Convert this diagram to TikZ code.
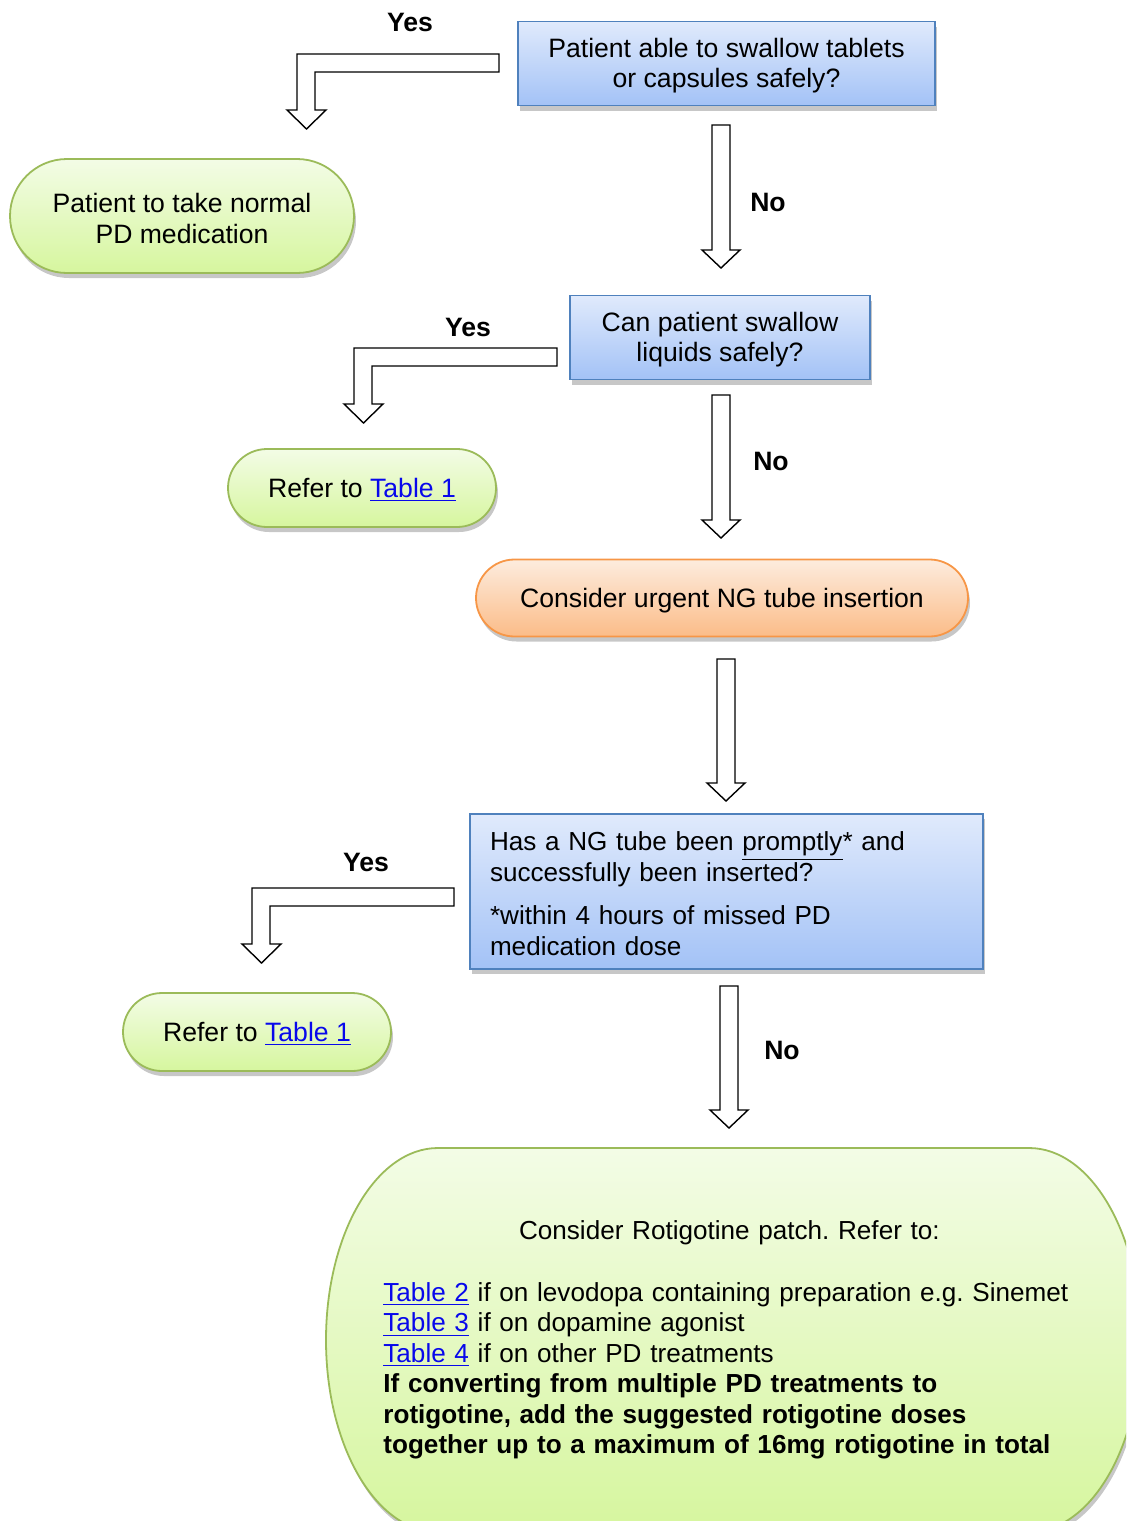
\documentclass[tikz,border=0pt]{standalone}
\usepackage{fontspec}
\setmainfont{Liberation Sans}
\usetikzlibrary{shapes.misc,shadows}
\definecolor{qtop}{RGB}{224,234,252}
\definecolor{qbot}{RGB}{163,194,246}
\definecolor{qline}{RGB}{79,129,189}
\definecolor{gtop}{RGB}{243,252,230}
\definecolor{gbot}{RGB}{214,246,158}
\definecolor{gline}{RGB}{155,187,89}
\definecolor{otop}{RGB}{253,236,222}
\definecolor{obot}{RGB}{251,188,136}
\definecolor{oline}{RGB}{247,150,70}
\definecolor{linkblue}{RGB}{8,8,235}
\frenchspacing
\newcommand\diafont{\fontsize{13.3pt}{15.25pt}\selectfont}
\newcommand\smallfont{\fontsize{13.05pt}{15.25pt}\selectfont}
\newcommand\pstrut{\rule[-0.212em]{0pt}{1.117em}}
\newcommand\tablink[1]{\textcolor{linkblue}{\underline{#1}}}
\newcommand\blockdown[3]{\draw[hollow] ({#1-9},#2) -- ({#1+9},#2) -- ({#1+9},{#3-18}) -- ({#1+19},{#3-18}) -- (#1,#3) -- ({#1-19},{#3-18}) -- ({#1-9},{#3-18}) -- cycle;}
\newcommand\blockbent[3]{\draw[hollow] (#1,#2) -- (#3,#2) -- ++(0,56) -- ++(-10,0) -- ++(19.5,19) -- ++(19.5,-19) -- ++(-11,0) -- ++(0,-38) -- ({#1},{#2+18}) -- cycle;}
\tikzset{
  softshadow/.style={drop shadow={shadow xshift=1pt,shadow yshift=-2.5pt,fill=black,opacity=.22}},
  question/.style={rectangle,draw=qline,line width=0.9pt,top color=qtop,bottom color=qbot,softshadow,inner sep=0pt,align=center},
  outcome/.style={rounded rectangle,draw=gline,line width=0.9pt,top color=gtop,bottom color=gbot,softshadow,inner sep=0pt,align=center},
  urgent/.style={rounded rectangle,draw=oline,line width=0.9pt,top color=otop,bottom color=obot,softshadow,inner sep=0pt,align=center},
  hollow/.style={draw=black,fill=white,line width=0.7pt,line join=miter},
  answer/.style={font=\diafont\bfseries}
}
\begin{document}
\begin{tikzpicture}[x=0.5pt,y=-0.5pt,font=\diafont]
\useasboundingbox (0,0) rectangle (1126,1521);
\node (q1) at (726.5,63.5) [question,minimum width=208.5pt,minimum height=42pt] {\pstrut Patient able to swallow tablets\\or capsules safely?\pstrut};
\node (o1) at (182,216) [outcome,minimum width=172pt,minimum height=57pt] {\pstrut Patient to take normal\\PD medication};
\node (q2) at (720,337.5) [question,minimum width=150pt,minimum height=42pt] {\pstrut Can patient swallow\\liquids safely?\pstrut};
\node (o2) at (362,488) [outcome,minimum width=134pt,minimum height=39pt] {\pstrut Refer to \tablink{Table 1}\pstrut};
\node (ng) at (722,598) [urgent,minimum width=246pt,minimum height=38.5pt] {\pstrut Consider urgent NG tube insertion\pstrut};
\node (q3) at (726.5,891.5) [question,minimum width=256.5pt,minimum height=77.5pt,text width=236.5pt,align=left,font=\smallfont] {\pstrut Has a NG tube been \underline{promptly}* and\\successfully been inserted?\\[6.5pt]*within 4 hours of missed PD\\medication dose};
\node (o3) at (257,1032) [outcome,minimum width=134pt,minimum height=39pt] {\pstrut Refer to \tablink{Table 1}\pstrut};
\begin{scope}
\clip (0,0) rectangle (1126,1521);
\path[draw=gline,line width=0.9pt,top color=gtop,bottom color=gbot,softshadow] (438,1148) -- (1029,1148) .. controls (1091,1148) and (1141,1234) .. (1141,1340) .. controls (1141,1446) and (1091,1532) .. (1029,1532) -- (438,1532) .. controls (376,1532) and (326,1446) .. (326,1340) .. controls (326,1234) and (376,1148) .. (438,1148) -- cycle;
\end{scope}
\node (patch) at (383,1340) [anchor=west,inner sep=0pt,text width=352pt,align=left,font=\smallfont] {\makebox[346pt]{Consider Rotigotine patch. Refer to:}\\[15.75pt]\tablink{Table 2} if on levodopa containing preparation e.g. Sinemet\\\tablink{Table 3} if on dopamine agonist\\\tablink{Table 4} if on other PD treatments\\\textbf{If converting from multiple PD treatments to}\\\textbf{rotigotine, add the suggested rotigotine doses}\\\textbf{together up to a maximum of 16mg rotigotine in total}};
\blockbent{499}{54}{297}
\blockbent{557}{348}{354}
\blockbent{454}{888}{252}
\blockdown{721}{125}{268}
\blockdown{721}{395}{538}
\blockdown{726}{659}{801}
\blockdown{729}{986}{1128}
\node (yes1) at (410,22) [answer] {Yes};
\node (no1) at (768,202) [answer] {No};
\node (yes2) at (468,327) [answer] {Yes};
\node (no2) at (771,461) [answer] {No};
\node (yes3) at (366,862) [answer] {Yes};
\node (no3) at (782,1050) [answer] {No};
\end{tikzpicture}
\end{document}
